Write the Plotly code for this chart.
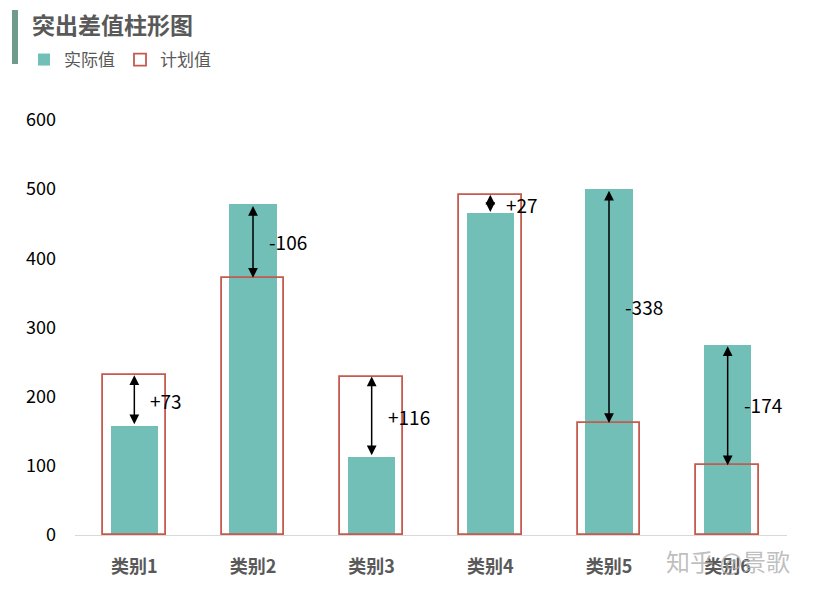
import plotly.graph_objects as go

categories = ["类别1", "类别2", "类别3", "类别4", "类别5", "类别6"]
actual = [158, 478, 113, 465, 500, 275]
plan = [231, 372, 229, 492, 162, 101]
y_ticks = [0, 100, 200, 300, 400, 500, 600]

# page body has an 8px margin: work in window pixels, convert to figure pixels
OFF = 8
W, H = 815 - OFF, 593 - OFF
PL, PR, PT, PB = 75, 787, 120, 535  # plot area in window pixels
ML, MR, MT, MB = PL - OFF, W - (PR - OFF), PT - OFF, H - (PB - OFF)
PW, PH = W - ML - MR, H - MT - MB

def px(x):
    return (x - PL) / PW

def py(y):
    return (PB - y) / PH

FONT = "Noto Sans CJK SC, Microsoft YaHei, sans-serif"
TEAL = "#72BFB8"
RED = "#C55A4E"
GRAY = "#595959"

fig = go.Figure()
fig.add_trace(go.Bar(
    x=categories, y=actual, name="实际值", width=0.4,
    marker=dict(color=TEAL, line=dict(width=0)),
))
fig.add_trace(go.Bar(
    x=categories, y=plan, name="计划值", width=0.53,
    marker=dict(color="rgba(0,0,0,0)", line=dict(color=RED, width=1.8)),
))

annotations = []
for i, (a, p) in enumerate(zip(actual, plan)):
    d = p - a
    annotations.append(dict(
        x=i, y=p, ax=i, ay=a, xref="x", yref="y", axref="x", ayref="y",
        text="", showarrow=True, arrowhead=2, arrowside="end+start",
        arrowsize=1.3, arrowwidth=1.5, arrowcolor="#000000", standoff=0, startstandoff=0,
    ))
    annotations.append(dict(
        x=i, y=(a + p) / 2, xref="x", yref="y", text=f"{d:+d}",
        showarrow=False, xanchor="left", yanchor="middle", xshift=14,
        font=dict(family=FONT, size=19, color="#000000"),
    ))

annotations.append(dict(
    x=px(664), y=py(560), xref="paper", yref="paper", text="知乎 @景歌",
    showarrow=False, xanchor="left", yanchor="middle",
    font=dict(family=FONT, size=24, color="rgba(170,170,170,0.75)"),
))

fig.update_layout(
    width=W, height=H,
    margin=dict(l=ML, r=MR, t=MT, b=MB, autoexpand=False),
    paper_bgcolor="white", plot_bgcolor="white",
    barmode="overlay", bargap=0,
    title=dict(
        text="<b>突出差值柱形图</b>", x=(32 - OFF) / W, xanchor="left", xref="container",
        y=1 - (26 - OFF) / H, yanchor="middle", yref="container",
        font=dict(family=FONT, size=23, color=GRAY),
    ),
    legend=dict(
        orientation="h", x=px(24), y=py(60), xanchor="left", yanchor="middle",
        font=dict(family=FONT, size=17, color=GRAY), itemwidth=30,
        bgcolor="rgba(0,0,0,0)", traceorder="normal",
    ),
    xaxis=dict(
        type="category", showgrid=False, showline=True, linecolor="#D9D9D9", linewidth=1,
        ticks="", tickfont=dict(family=FONT, size=18, color=GRAY, weight="bold"),
        zeroline=False, ticklabelstandoff=15,
    ),
    yaxis=dict(
        range=[0, 600], tickvals=y_ticks, showgrid=False, showline=False, zeroline=False,
        ticks="", ticklen=0, tickfont=dict(family=FONT, size=18, color="#000000"),
        ticklabelstandoff=18,
    ),
    annotations=annotations,
    shapes=[dict(
        type="rect", xref="paper", yref="paper",
        x0=px(12), x1=px(18), y0=py(64), y1=py(10),
        fillcolor="#6F9A8C", line=dict(width=0),
    )],
)

fig.write_html("out.html")
